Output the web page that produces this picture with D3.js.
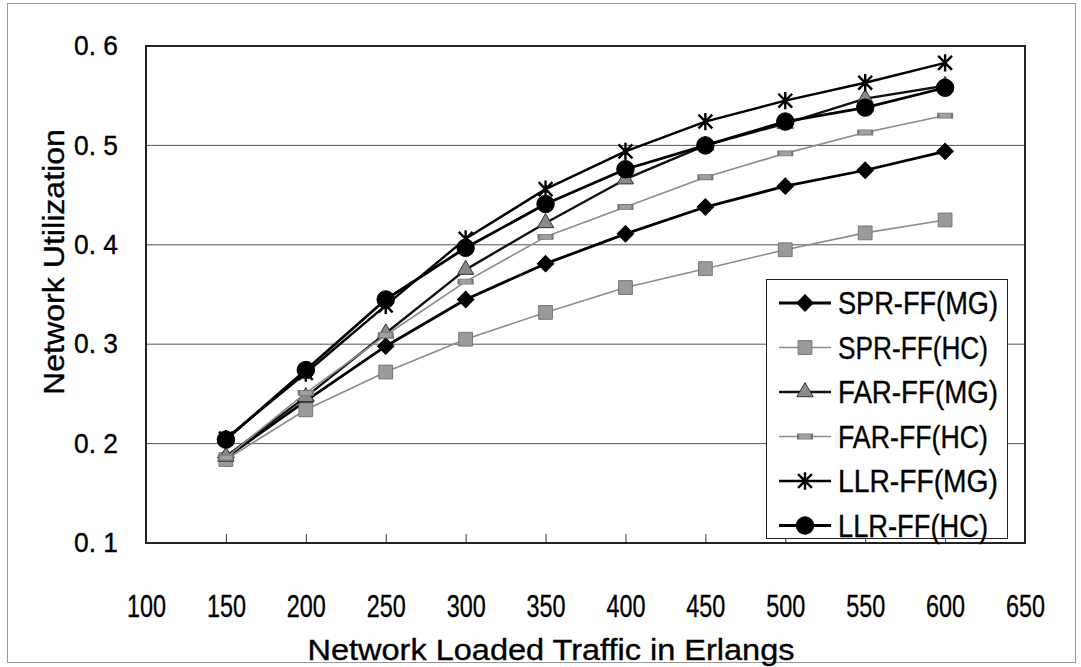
<!DOCTYPE html>
<html>
<head>
<meta charset="utf-8">
<script src="https://cdn.jsdelivr.net/npm/d3@7"></script>
<style>
  body { margin: 0; background: #fff; }
  svg { display: block; }
  text { font-family: "Liberation Sans", Arial, sans-serif; fill: #000; stroke: #000; stroke-width: 0.35px; }
</style>
</head>
<body>
<svg id="chart" width="1081" height="667"></svg>
<script>
// Chart data.
const loads = [150, 200, 250, 300, 350, 400, 450, 500, 550, 600];
const sprMG = [0.186, 0.243, 0.298, 0.345, 0.381, 0.411, 0.438, 0.459, 0.475, 0.494];
const sprHC = [0.184, 0.234, 0.272, 0.305, 0.332, 0.357, 0.376, 0.395, 0.412, 0.425];
const farMG = [0.187, 0.247, 0.311, 0.375, 0.422, 0.466, 0.500, 0.522, 0.547, 0.560];
const farHC = [0.186, 0.251, 0.309, 0.363, 0.408, 0.438, 0.468, 0.492, 0.513, 0.530];
const llrMG = [0.205, 0.271, 0.339, 0.406, 0.456, 0.494, 0.524, 0.545, 0.563, 0.583];
const llrHC = [0.204, 0.274, 0.345, 0.397, 0.441, 0.476, 0.500, 0.524, 0.538, 0.558];
const seriesNames = ['SPR-FF(MG)', 'SPR-FF(HC)', 'FAR-FF(MG)', 'FAR-FF(HC)', 'LLR-FF(MG)', 'LLR-FF(HC)'];
const xTicks = [100, 150, 200, 250, 300, 350, 400, 450, 500, 550, 600, 650];
const yTicks = [0.1, 0.2, 0.3, 0.4, 0.5, 0.6];

const values = [sprMG, sprHC, farMG, farHC, llrMG, llrHC];

// X with a vertical bar, like the old spreadsheet star marker.
const symbolStar = {
  draw(context, size) {
    const r = Math.sqrt(size) / 2;
    const a = r * 0.8;
    context.moveTo(-a, -a); context.lineTo(a, a);
    context.moveTo(-a, a); context.lineTo(a, -a);
    context.moveTo(0, -r); context.lineTo(0, r);
  }
};

// Look of each series: line colour/width and marker.
const styles = [
  { stroke: '#000', width: 2.8, symbol: d3.symbolSquare, size: 135, rotate: 45, fill: '#000', mStroke: '#000' },
  { stroke: '#8c8c8c', width: 1.6, symbol: d3.symbolSquare, size: 190, rotate: 0, fill: '#9a9a9a', mStroke: '#777' },
  { stroke: '#111', width: 2.4, symbol: d3.symbolTriangle, size: 115, rotate: 0, fill: '#8a8a8a', mStroke: '#333' },
  { stroke: '#8c8c8c', width: 1.6, symbol: d3.symbolSquare, size: 40, rotate: 0, sx: 2.2, sy: 0.8, fill: '#a0a0a0', mStroke: '#777' },
  { stroke: '#000', width: 2.4, symbol: symbolStar, size: 300, rotate: 0, fill: 'none', mStroke: '#000', mWidth: 2.4 },
  { stroke: '#000', width: 2.8, symbol: d3.symbolCircle, size: 240, rotate: 0, fill: '#000', mStroke: '#000' }
];

const svg = d3.select('#chart');

const plot = { left: 146, right: 1025, top: 46, bottom: 543 };

const x = d3.scaleLinear().domain([100, 650]).range([plot.left, plot.right]);
const y = d3.scaleLinear().domain([0.1, 0.6]).range([plot.bottom, plot.top]);

// Outer picture frame.
svg.append('rect')
  .attr('x', 7.5).attr('y', 3.5)
  .attr('width', 1068).attr('height', 659)
  .style('fill', 'none').style('stroke', '#999').style('stroke-width', 1);

// Horizontal gridlines.
svg.append('g')
  .selectAll('line')
  .data(yTicks.filter(d => d > 0.1 && d < 0.6))
  .join('line')
  .attr('x1', plot.left).attr('x2', plot.right)
  .attr('y1', d => y(d)).attr('y2', d => y(d))
  .style('stroke', '#555').style('stroke-width', 1);

// X axis: ticks inside, labels far below.
const xAxis = d3.axisBottom(x)
  .tickValues(xTicks)
  .tickSizeInner(-9)
  .tickSizeOuter(0)
  .tickPadding(52);

const gx = svg.append('g')
  .attr('transform', 'translate(0,' + plot.bottom + ')')
  .call(xAxis);
gx.select('.domain').remove();
gx.selectAll('.tick line').style('stroke', '#333');
gx.selectAll('.tick text')
  .style('font-size', '31px')
  .style('font-family', '"Liberation Sans", Arial, sans-serif')
  .attr('textLength', 39)
  .attr('lengthAdjust', 'spacingAndGlyphs');

// Y axis labels, "0. 6" style.
const yAxis = d3.axisLeft(y)
  .tickValues(yTicks)
  .tickSize(0)
  .tickPadding(28)
  .tickFormat(d => d3.format('.1f')(d).replace('.', '. '));

const gy = svg.append('g')
  .attr('transform', 'translate(' + plot.left + ',0)')
  .call(yAxis);
gy.select('.domain').remove();
gy.selectAll('.tick text')
  .style('font-size', '27px')
  .style('font-family', '"Liberation Sans", Arial, sans-serif')
  .attr('textLength', 44)
  .attr('lengthAdjust', 'spacingAndGlyphs');

// Plot frame.
svg.append('rect')
  .attr('x', plot.left).attr('y', plot.top)
  .attr('width', plot.right - plot.left)
  .attr('height', plot.bottom - plot.top)
  .style('fill', 'none').style('stroke', '#222').style('stroke-width', 2);

// Series lines and markers.
const line = d3.line()
  .x((d, i) => x(loads[i]))
  .y(d => y(d));

function marker(sel, st) {
  sel.attr('d', d3.symbol().type(st.symbol).size(st.size))
    .style('fill', st.fill)
    .style('stroke', st.mStroke)
    .style('stroke-width', st.mWidth || 1);
}

values.forEach((vals, k) => {
  const st = styles[k];
  const g = svg.append('g').attr('class', 'series');
  g.append('path')
    .datum(vals)
    .attr('d', line)
    .style('fill', 'none')
    .style('stroke', st.stroke)
    .style('stroke-width', st.width)
    .style('stroke-linejoin', 'round');
  g.selectAll('path.mark')
    .data(vals)
    .join('path')
    .attr('class', 'mark')
    .attr('transform', (d, i) =>
      'translate(' + x(loads[i]) + ',' + y(d) + ') rotate(' + st.rotate + ')' +
      (st.sx ? ' scale(' + st.sx + ',' + st.sy + ')' : ''))
    .call(marker, st);
});

// Legend.
const legend = svg.append('g').attr('class', 'legend');
legend.append('rect')
  .attr('x', 766.5).attr('y', 279.5)
  .attr('width', 241).attr('height', 259)
  .style('fill', '#fff').style('stroke', '#222').style('stroke-width', 1);

seriesNames.forEach((name, k) => {
  const st = styles[k];
  const cy = 303 + k * 44.5;
  legend.append('line')
    .attr('x1', 779).attr('x2', 831)
    .attr('y1', cy).attr('y2', cy)
    .style('stroke', st.stroke).style('stroke-width', st.width);
  legend.append('path')
    .attr('transform', 'translate(805,' + cy + ') rotate(' + st.rotate + ')' +
      (st.sx ? ' scale(' + st.sx + ',' + st.sy + ')' : ''))
    .call(marker, st);
  legend.append('text')
    .attr('x', 838).attr('y', cy + 11)
    .style('font-size', '31px')
    .attr('textLength', name.indexOf('MG') > 0 ? 160 : 150)
    .attr('lengthAdjust', 'spacingAndGlyphs')
    .text(name);
});

// Axis titles.
svg.append('text')
  .attr('x', 551).attr('y', 660)
  .style('font-size', '29px')
  .style('text-anchor', 'middle')
  .attr('textLength', 487)
  .attr('lengthAdjust', 'spacingAndGlyphs')
  .text('Network Loaded Traffic in Erlangs');

svg.append('text')
  .attr('transform', 'translate(64,262) rotate(-90)')
  .style('font-size', '29px')
  .style('text-anchor', 'middle')
  .attr('textLength', 266)
  .attr('lengthAdjust', 'spacingAndGlyphs')
  .text('Network Utilization');
</script>
</body>
</html>
